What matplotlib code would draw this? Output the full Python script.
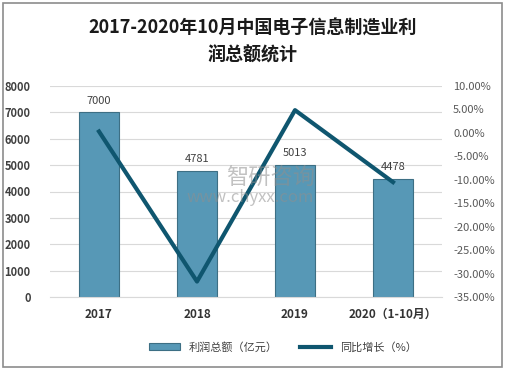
import matplotlib.pyplot as plt
from matplotlib.patches import Rectangle

plt.rcParams['font.family'] = ['Noto Sans CJK SC', 'DejaVu Sans']

# 数据
years = ["2017", "2018", "2019", "2020（1-10月）"]
profit = [7000, 4781, 5013, 4478]
growth = [0.3, -31.7, 4.85, -10.5]

left_ticks = [0, 1000, 2000, 3000, 4000, 5000, 6000, 7000, 8000]
right_ticks = [-35, -30, -25, -20, -15, -10, -5, 0, 5, 10]

fig = plt.figure(figsize=(5.05, 3.7), dpi=100)
fig.patches.append(Rectangle((0.006, 0.008), 0.988, 0.985, transform=fig.transFigure,
                             fill=False, edgecolor="#8c8c8c", linewidth=1.2))

ax = fig.add_axes([50 / 505, 73 / 370, 392 / 505, 211 / 370])
x = list(range(len(years)))
bars = ax.bar(x, profit, width=0.41, color="#5798b6", edgecolor="#3d6f84", linewidth=0.8,
              label="利润总额（亿元）", zorder=2)
for xi, v in zip(x, profit):
    ax.text(xi, v + 250, str(v), ha="center", va="bottom", fontsize=8, color="#404040")

ax.set_ylim(0, 8000)
ax.set_yticks(left_ticks)
ax.set_xlim(-0.5, len(years) - 0.5)
ax.set_xticks(x)
ax.set_xticklabels(years, fontsize=8.5, fontweight="bold", color="#333333")
for lbl in ax.get_yticklabels():
    lbl.set_fontsize(8)
    lbl.set_fontweight("bold")
    lbl.set_color("#404040")
ax.tick_params(axis="both", length=0, pad=8)
ax.tick_params(axis="y", pad=14)
ax.grid(axis="y", color="#d9d9d9", linewidth=0.8, zorder=0)
for s in ax.spines.values():
    s.set_visible(False)
ax.spines["bottom"].set_visible(True)
ax.spines["bottom"].set_color("#d9d9d9")

ax2 = ax.twinx()
line, = ax2.plot(x, growth, color="#0f566f", linewidth=3, label="同比增长（%）", zorder=3)
ax2.set_ylim(-35, 10)
ax2.set_yticks(right_ticks)
ax2.set_yticklabels([f"{t:.2f}%" for t in right_ticks], fontsize=8, color="#595959")
ax2.tick_params(axis="y", length=0, pad=8)
for s in ax2.spines.values():
    s.set_visible(False)

fig.text(0.5, 0.925, "2017-2020年10月中国电子信息制造业利", ha="center", va="center",
         fontsize=13, fontweight="bold", color="#1a1a1a")
fig.text(0.5, 0.85, "润总额统计", ha="center", va="center",
         fontsize=13, fontweight="bold", color="#1a1a1a")

# 水印
fig.text(0.535, 0.518, "智研咨询", ha="center", va="center", fontsize=16, color="#8f8f8f", alpha=0.55)
fig.text(0.495, 0.465, "www.chyxx.com", ha="center", va="center", fontsize=12, color="#8f8f8f", alpha=0.55)

fig.legend([bars, line], ["利润总额（亿元）", "同比增长（%）"], loc="center",
           bbox_to_anchor=(0.56, 0.062), ncol=2, frameon=False, fontsize=8,
           handlelength=2.8, columnspacing=2.0, labelcolor="#404040")

fig.savefig("out.png", dpi=100)
